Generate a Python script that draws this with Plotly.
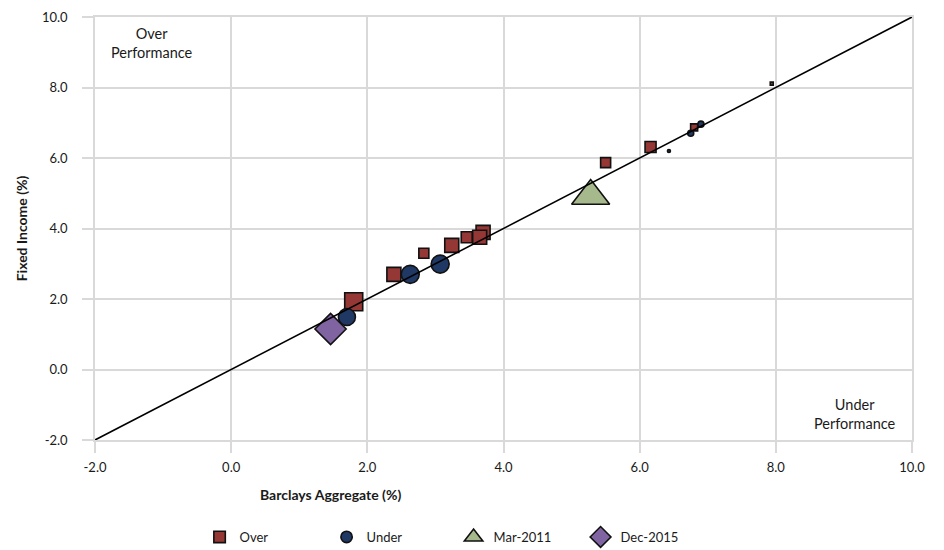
import plotly.graph_objects as go

# ---- data ----
over_x = [1.80, 2.39, 2.83, 3.24, 3.46, 3.70, 3.65, 5.50, 6.16, 6.80, 7.94]
over_y = [1.92, 2.70, 3.30, 3.52, 3.75, 3.89, 3.75, 5.87, 6.31, 6.87, 8.11]
over_size = [18, 14, 10, 14, 11, 14, 14, 10, 11, 7, 3]

under_x = [1.70, 2.63, 3.07, 6.43, 6.75, 6.90]
under_y = [1.49, 2.70, 2.99, 6.20, 6.70, 6.96]
under_size = [17, 18, 18, 3, 6, 6]

mar2011_x = [5.28]
mar2011_y = [4.92]

dec2015_x = [1.46]
dec2015_y = [1.15]

diag_x = [-2.0, 10.0]
diag_y = [-2.0, 10.0]

tick_vals = [-2.0, 0.0, 2.0, 4.0, 6.0, 8.0, 10.0]
tick_text = ["-2.0", "0.0", "2.0", "4.0", "6.0", "8.0", "10.0"]

FONT = "Lato, 'Open Sans', sans-serif"
GRID = "#D9D9D9"
EDGE = "#111111"

fig = go.Figure()

fig.add_trace(go.Scatter(
    x=over_x, y=over_y, mode="markers", name="Over",
    marker=dict(symbol="square", size=over_size, color="#953735", opacity=1,
                line=dict(color=EDGE, width=1.6))))
fig.add_trace(go.Scatter(
    x=under_x, y=under_y, mode="markers", name="Under",
    marker=dict(symbol="circle", size=under_size, color="#1F3864", opacity=1,
                line=dict(color=EDGE, width=1.6))))
fig.add_trace(go.Scatter(
    x=mar2011_x, y=mar2011_y, mode="markers", name="Mar-2011",
    marker=dict(symbol="triangle-up", size=33, color="#A6B98C", opacity=1,
                line=dict(color=EDGE, width=1.6))))
fig.add_trace(go.Scatter(
    x=dec2015_x, y=dec2015_y, mode="markers", name="Dec-2015",
    marker=dict(symbol="diamond", size=24, color="#8064A2", opacity=1,
                line=dict(color=EDGE, width=1.6))))
fig.add_trace(go.Scatter(
    x=diag_x, y=diag_y, mode="lines", showlegend=False, hoverinfo="skip",
    line=dict(color="#000000", width=1.6)))

axis_common = dict(
    range=[-2, 10], tickvals=tick_vals, ticktext=tick_text, automargin=False,
    ticklabeloverflow="allow",
    showgrid=True, gridcolor=GRID, gridwidth=1.5,
    zeroline=False, showline=True, mirror=True, linecolor=GRID, linewidth=1.5,
    ticks="outside", ticklen=11, tickcolor=GRID, tickwidth=1.5,
    tickfont=dict(family=FONT, size=13, color="#1a1a1a"),
)

fig.update_layout(
    width=936, height=542,
    margin=dict(l=87, r=32, t=9, b=110),
    paper_bgcolor="white", plot_bgcolor="white",
    font=dict(family=FONT, color="#1a1a1a"),
    xaxis=dict(**axis_common, ticklabelstandoff=4),
    yaxis=dict(**axis_common, ticklabelstandoff=12,
               title=dict(text="<b>Fixed Income (%)</b>", standoff=11,
                          font=dict(family=FONT, size=14, color="#1a1a1a"))),
    showlegend=True,
    legend=dict(orientation="h", x=0.128, xanchor="left",
                yref="container", y=0.024, yanchor="middle",
                entrywidth=82, entrywidthmode="pixels", itemsizing="trace",
                font=dict(family=FONT, size=13, color="#1a1a1a"),
                bgcolor="rgba(0,0,0,0)"),
    annotations=[
        dict(text="<b>Barclays Aggregate (%)</b>", xref="paper", yref="paper",
             x=0.288, y=0, yshift=-54, xanchor="center", yanchor="middle", showarrow=False,
             font=dict(family=FONT, size=14, color="#1a1a1a")),
        dict(text="Over<br>Performance", xref="x", yref="y", x=-1.16, y=9.27,
             xanchor="center", yanchor="middle", showarrow=False,
             font=dict(family=FONT, size=14.5, color="#1a1a1a")),
        dict(text="Under<br>Performance", xref="x", yref="y", x=9.16, y=-1.27,
             xanchor="center", yanchor="middle", showarrow=False,
             font=dict(family=FONT, size=14.5, color="#1a1a1a")),
    ],
)

fig.write_html("out.html")
